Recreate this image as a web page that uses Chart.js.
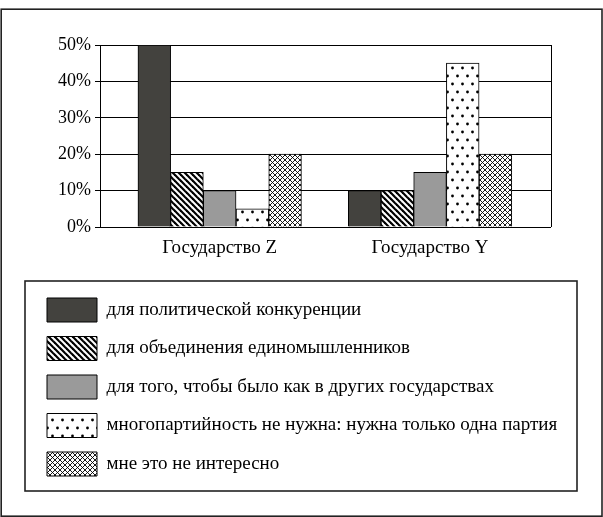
<!DOCTYPE html>
<html>
<head>
<meta charset="utf-8">
<script src="https://cdn.jsdelivr.net/npm/chart.js@4"></script>
<style>
  html, body { margin: 0; padding: 0; background: #fff; }
  canvas { display: block; }
</style>
</head>
<body>
<canvas id="c" width="603" height="517"></canvas>
<script>
// ---- data ----
const categories = ['Государство Z', 'Государство Y'];
const seriesLabels = [
  'для политической конкуренции',
  'для объединения единомышленников',
  'для того, чтобы было как в других государствах',
  'многопартийность не нужна: нужна только одна партия',
  'мне это не интересно'
];
const politicalCompetition = [50, 10];
const likeMinded = [15, 10];
const likeOtherStates = [10, 15];
const onlyOneParty = [5, 45];
const notInterested = [20, 20];
const yTicks = [0, 10, 20, 30, 40, 50];

// ---- patterns ----
function makePattern(w, h, draw) {
  const c = document.createElement('canvas');
  c.width = w; c.height = h;
  const g = c.getContext('2d');
  g.fillStyle = '#fff';
  g.fillRect(0, 0, w, h);
  draw(g, w, h);
  return g.createPattern(c, 'repeat');
}
const stripes = makePattern(6, 6, (g, w, h) => {
  g.strokeStyle = '#000';
  g.lineWidth = 2.2;
  for (let o = -w; o <= w; o += w) {
    g.beginPath();
    g.moveTo(o - 1, -1);
    g.lineTo(o + w + 1, h + 1);
    g.stroke();
  }
});
const dots = makePattern(10, 16, (g) => {
  g.fillStyle = '#000';
  g.beginPath(); g.arc(2.5, 4, 1.4, 0, Math.PI * 2); g.fill();
  g.beginPath(); g.arc(7.5, 12, 1.4, 0, Math.PI * 2); g.fill();
});
const cross = makePattern(5, 5, (g, w, h) => {
  g.strokeStyle = '#000';
  g.lineWidth = 0.9;
  for (let o = -w; o <= w; o += w) {
    g.beginPath(); g.moveTo(o, 0); g.lineTo(o + w, h); g.stroke();
    g.beginPath(); g.moveTo(o, h); g.lineTo(o + w, 0); g.stroke();
  }
});

const seriesValues = [politicalCompetition, likeMinded, likeOtherStates, onlyOneParty, notInterested];
const fills = ['#43423e', stripes, '#9a9a9a', dots, cross];

const datasets = seriesValues.map((vals, s) => ({
  label: seriesLabels[s],
  data: vals.map((v, i) => ({ x: i, y: v })),
  backgroundColor: fills[s],
  borderColor: '#000',
  borderWidth: 1,
  barThickness: 32.7
}));

const SERIF = "'Liberation Serif', 'Times New Roman', serif";
const FONT18 = { family: SERIF, size: 18 };
const FONT19 = { family: SERIF, size: 19 };

const framePlugin = {
  id: 'frames',
  beforeDraw(chart) {
    const { ctx } = chart;
    ctx.save();
    ctx.fillStyle = '#fff';
    ctx.fillRect(0, 0, chart.width, chart.height);
    ctx.restore();
  },
  afterDraw(chart) {
    const { ctx, chartArea, legend } = chart;
    ctx.save();
    // right border of plot
    ctx.strokeStyle = '#000';
    ctx.lineWidth = 1;
    ctx.beginPath();
    ctx.moveTo(Math.round(chartArea.right) + 0.5, chartArea.top);
    ctx.lineTo(Math.round(chartArea.right) + 0.5, chartArea.bottom);
    ctx.stroke();
    // outer frame
    ctx.strokeStyle = '#222';
    ctx.lineWidth = 1.6;
    ctx.strokeRect(1.2, 9.2, chart.width - 2.2, chart.height - 10);
    // legend frame
    ctx.lineWidth = 1.6;
    const lx = legend.left - 7.5, ly = legend.top - 2.5;
    ctx.strokeRect(lx, ly, chart.width - 26 - lx, legend.bottom + 5 - ly);
    ctx.restore();
  }
};

new Chart(document.getElementById('c'), {
  type: 'bar',
  data: { datasets },
  plugins: [framePlugin],
  options: {
    responsive: false,
    animation: false,
    events: [],
    layout: { padding: { left: 32.5, right: 20, top: 45, bottom: 31 } },
    plugins: {
      tooltip: { enabled: false },
      legend: {
        position: 'bottom',
        align: 'start',
        labels: {
          boxWidth: 50,
          boxHeight: 24,
          padding: 14.5,
          color: '#000',
          font: FONT19
        }
      }
    },
    scales: {
      x: {
        type: 'linear',
        offset: false,
        min: -0.569,
        max: 1.575,
        grid: { display: false, drawTicks: false, offset: false },
        border: { display: false },
        afterBuildTicks: (scale) => { scale.ticks = categories.map((c, i) => ({ value: i })); },
        afterFit: (scale) => { scale.height = 56.5; },
        ticks: {
          padding: 10,
          maxRotation: 0,
          autoSkip: false,
          color: '#000',
          font: FONT19,
          callback: (v) => categories[v]
        }
      },
      y: {
        min: 0,
        max: 50,
        afterBuildTicks: (scale) => { scale.ticks = yTicks.map(v => ({ value: v })); },
        afterFit: (scale) => { scale.width = 67.5; },
        grid: { color: '#000', lineWidth: 1, tickLength: 5, drawTicks: true },
        border: { display: true, color: '#000', width: 1 },
        ticks: {
          padding: 4,
          color: '#000',
          font: FONT18,
          callback: (v) => v + '%'
        }
      },
      ySpacer: {
        type: 'linear',
        position: 'right',
        min: 0,
        max: 50,
        grid: { display: false, drawTicks: false },
        border: { display: false },
        ticks: { display: false },
        afterFit: (scale) => { scale.width = 32; }
      }
    }
  }
});
</script>
</body>
</html>
